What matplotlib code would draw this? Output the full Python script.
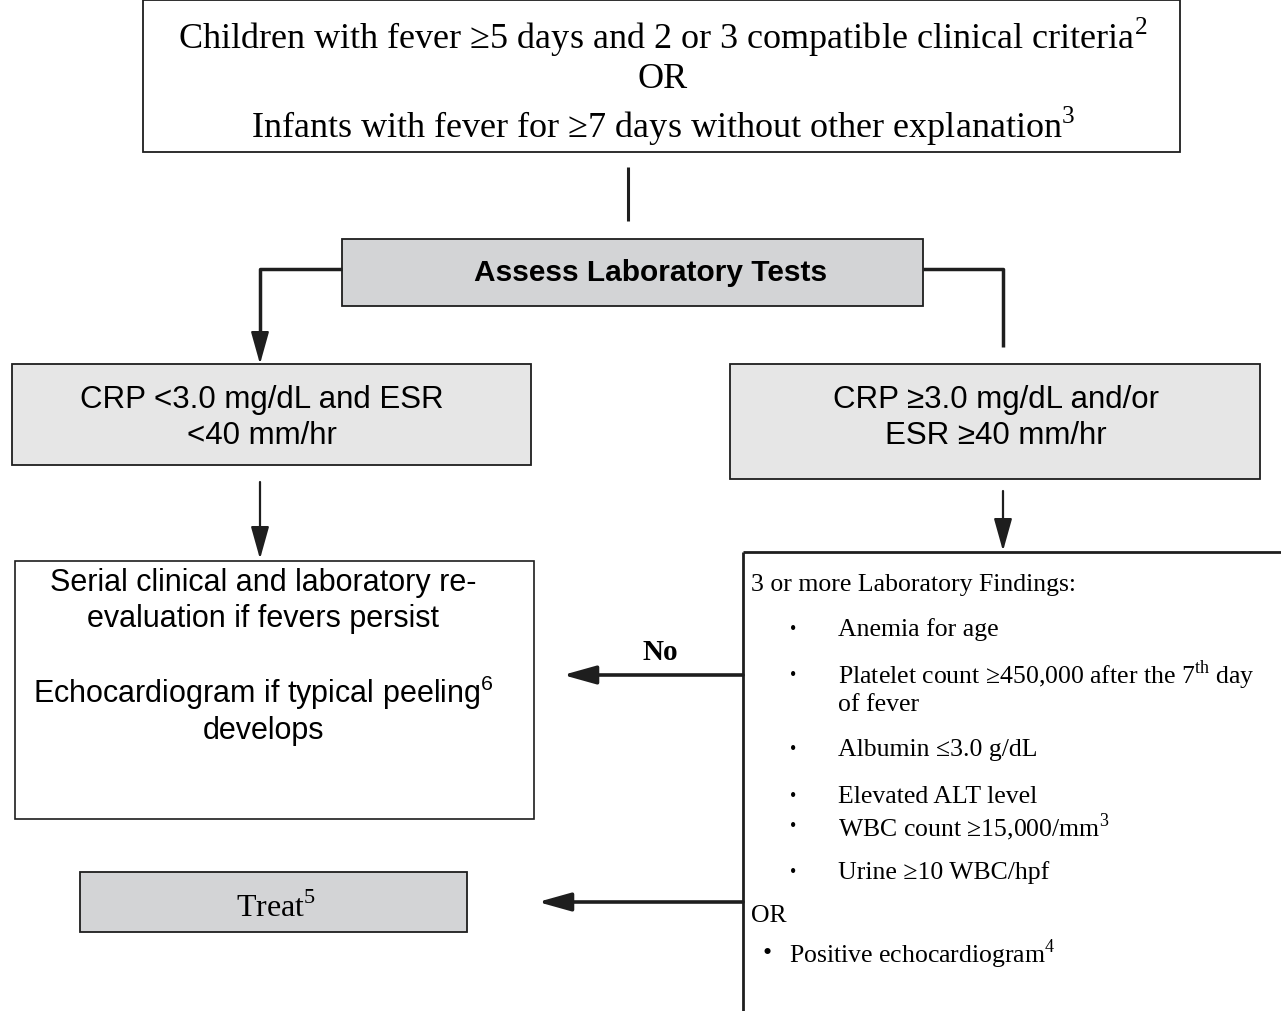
import matplotlib
matplotlib.use('Agg')
import matplotlib.pyplot as plt
from matplotlib.patches import Rectangle

plt.rcParams['mathtext.fontset'] = 'custom'
plt.rcParams['mathtext.rm'] = 'Liberation Serif'
plt.rcParams['mathtext.sf'] = 'Liberation Sans'

SERIF = ['Liberation Serif', 'DejaVu Serif']
SANS = ['Liberation Sans', 'DejaVu Sans']

# box texts
top_lines = [r'Children with fever ≥5 days and 2 or 3 compatible clinical criteria$^\mathrm{2}$',
             'OR',
             r'Infants with fever for ≥7 days without other explanation$^\mathrm{3}$']
assess_label = 'Assess Laboratory Tests'
low_lines = ['CRP <3.0 mg/dL and ESR', '<40 mm/hr']
high_lines = ['CRP ≥3.0 mg/dL and/or', 'ESR ≥40 mm/hr']
serial_lines = ['Serial clinical and laboratory re-', 'evaluation if fevers persist',
                r'Echocardiogram if typical peeling$^\mathsf{6}$', 'develops']
findings_head = '3 or more Laboratory Findings:'
findings_items = ['Anemia for age',
                  r'Platelet count ≥450,000 after the 7$^\mathrm{th}$ day',
                  'Albumin ≤3.0 g/dL',
                  'Elevated ALT level',
                  r'WBC count ≥15,000/mm$^\mathrm{3}$',
                  'Urine ≥10 WBC/hpf']
findings_or = 'OR'
echo_item = r'Positive echocardiogram$^\mathrm{4}$'
no_label = 'No'
treat_label = r'Treat$^\mathrm{5}$'

EDGE = '#1e1e1e'
DARK_FILL = '#d3d4d6'
LIGHT_FILL = '#e6e6e6'

fig = plt.figure(figsize=(12.81, 10.12), dpi=100)
ax = fig.add_axes([0, 0, 1, 1])
ax.set_xlim(0, 1281)
ax.set_ylim(1012, 0)
ax.axis('off')


def box(x0, y0, x1, y1, fc='white', lw=1.3):
    ax.add_patch(Rectangle((x0, y0), x1 - x0, y1 - y0, facecolor=fc,
                           edgecolor=EDGE, linewidth=lw))


def line(xs, ys, lw=2.0):
    ax.plot(xs, ys, color=EDGE, linewidth=lw, solid_capstyle='butt')


def arrow(x0, y0, x1, y1, lw=1.6):
    ax.annotate('', xy=(x1, y1), xytext=(x0, y0),
                arrowprops=dict(arrowstyle='-|>,head_length=1.0,head_width=0.28',
                                color=EDGE, lw=lw, shrinkA=0, shrinkB=0,
                                mutation_scale=20))


# top box
box(143, 1, 1180, 153)
for ln, y in zip(top_lines, [37, 79, 126]):
    ax.text(663, y, ln, ha='center', va='center', fontsize=26, family=SERIF)
line([628, 628], [168, 222], lw=2.2)

# assess box
box(342, 240, 923, 307, fc=DARK_FILL)
ax.text(651, 273, assess_label, ha='center', va='center', fontsize=21.5,
        fontweight='bold', family=SANS)
line([342, 260, 260], [270, 270, 345], lw=2.5)
arrow(260, 340, 260, 365)
line([923, 1003, 1003], [270, 270, 348], lw=2.5)

# CRP boxes
box(12, 365, 531, 466, fc=LIGHT_FILL)
for ln, y in zip(low_lines, [400, 436]):
    ax.text(262, y, ln, ha='center', va='center', fontsize=22.5, family=SANS)
box(730, 365, 1260, 480, fc=LIGHT_FILL)
for ln, y in zip(high_lines, [400, 436]):
    ax.text(996, y, ln, ha='center', va='center', fontsize=22.5, family=SANS)

arrow(260, 483, 260, 560)
arrow(1003, 492, 1003, 552)

# serial re-evaluation box
box(15, 562, 534, 820, lw=1.2)
for ln, y in zip(serial_lines, [583, 619, 693, 731]):
    ax.text(263, y, ln, ha='center', va='center', fontsize=22, family=SANS)

# findings box (open on right and bottom)
line([743, 1281], [553, 553], lw=2.0)
line([743, 743], [553, 1012], lw=2.0)
ax.text(751, 585, findings_head, ha='left', va='center', fontsize=18.5, family=SERIF)
for item, y in zip(findings_items, [630, 675, 750, 797, 827, 873]):
    ax.text(790, y, '•', ha='left', va='center', fontsize=13, family=SERIF)
    ax.text(838, y, item, ha='left', va='center', fontsize=18.5, family=SERIF)
ax.text(838, 705, 'of fever', ha='left', va='center', fontsize=18.5, family=SERIF)
ax.text(751, 916, findings_or, ha='left', va='center', fontsize=18.5, family=SERIF)
ax.text(762, 954, '•', ha='left', va='center', fontsize=18.5, family=SERIF)
ax.text(789, 954, echo_item, ha='left', va='center', fontsize=18.5, family=SERIF)

# No branch
arrow(743, 676, 563, 676, lw=2.6)
ax.text(660, 652, no_label, ha='center', va='center', fontsize=21,
        fontweight='bold', family=SERIF)

# treat
box(80, 873, 467, 933, fc=DARK_FILL)
ax.text(276, 908, treat_label, ha='center', va='center', fontsize=23, family=SERIF)
arrow(743, 903, 538, 903, lw=2.6)

fig.savefig('out.png', dpi=100, facecolor='white')
